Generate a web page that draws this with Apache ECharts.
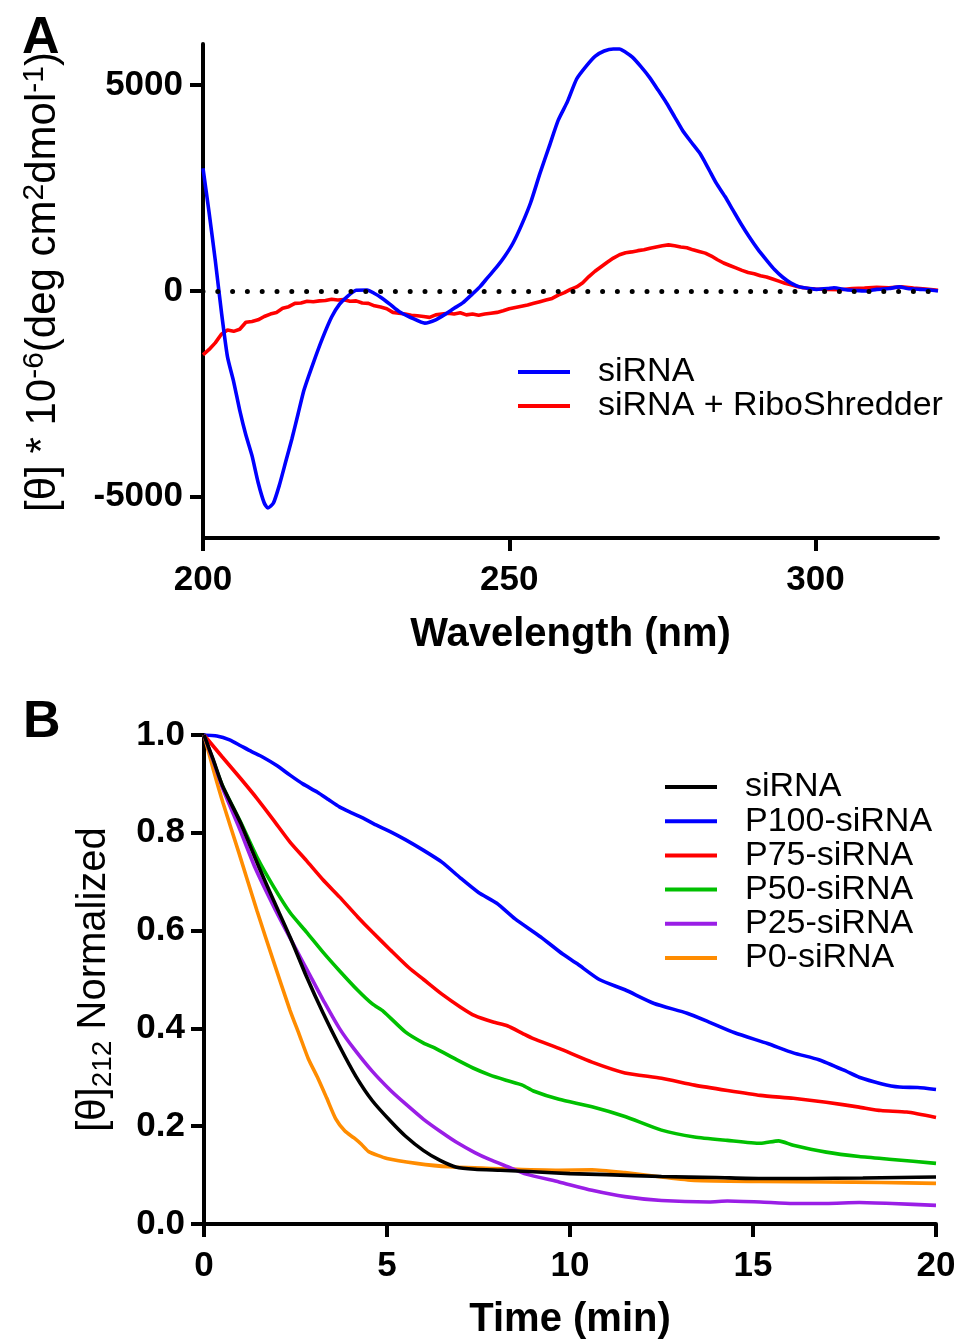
<!DOCTYPE html>
<html><head><meta charset="utf-8">
<script src="https://cdn.jsdelivr.net/npm/echarts@6/dist/echarts.min.js"></script>
<style>html,body{margin:0;padding:0;background:#fff}#c{width:955px;height:1340px}</style>
</head><body><div id="c"></div>
<script>
const FONT = '"Liberation Sans", Arial, Helvetica, sans-serif';

// ---------- Panel A : CD spectra ----------
const aXTicks = [200, 250, 300];
const aYTicks = [-5000, 0, 5000];
// [wavelength nm, [θ]]
const aSiRNA = [[200,2980],[201,1900],[202,750],[203,-500],[204,-1600],[205,-2200],[206,-2900],[207,-3500],[208,-4000],[209,-4650],[210,-5150],[210.6,-5270],[211.5,-5150],[212.5,-4700],[213.5,-4150],[214.5,-3600],[215.5,-3000],[216.5,-2400],[218,-1750],[219.5,-1150],[221,-630],[222.3,-320],[223.5,-140],[225,20],[226.8,25],[228,-60],[229,-150],[230.5,-320],[232,-500],[234,-650],[236.2,-780],[238,-700],[239.8,-540],[241,-420],[242.4,-290],[244,-70],[245.2,100],[246.5,330],[248,590],[249.3,850],[250.6,1160],[252,1600],[253.5,2150],[255,2850],[256.5,3500],[258,4150],[259.5,4600],[261,5150],[262.5,5450],[264,5700],[265.5,5830],[267,5880],[268,5880],[269,5800],[270.1,5680],[271.5,5450],[272.9,5190],[274.3,4880],[275.7,4560],[277,4230],[278.3,3900],[279.7,3620],[281.1,3350],[282.5,2980],[283.8,2620],[285.2,2300],[286.5,1970],[287.8,1640],[289.2,1310],[290.6,1010],[292,750],[293.3,520],[294.6,340],[296,190],[297.4,100],[299,60],[300.2,40],[302,60],[303,80],[305,30],[307,10],[308.3,0],[310,40],[312,60],[313.7,100],[315,60],[317,40],[318.5,30],[320,0]];
const aRibo = [[200,-1550],[201,-1420],[202,-1260],[203,-1050],[204,-950],[205,-980],[206,-930],[207,-760],[208,-740],[209,-700],[210,-620],[211,-560],[212,-520],[213,-420],[214,-380],[215,-300],[216,-290],[217,-250],[218,-260],[219,-240],[220,-230],[221,-200],[222,-220],[223,-210],[224,-250],[225,-240],[226,-290],[227,-300],[228,-360],[229,-390],[230,-430],[231,-520],[232,-540],[233,-560],[234,-590],[235,-600],[236,-620],[237,-640],[238,-580],[239,-560],[240,-540],[241,-560],[242,-530],[243,-580],[244,-560],[245,-590],[246,-560],[247,-540],[248,-520],[249,-480],[250,-430],[251,-400],[252,-370],[253,-340],[254,-300],[255,-260],[256,-220],[257,-180],[258,-100],[259,-40],[260,40],[261,100],[262,200],[263,350],[264,480],[265,590],[266,700],[267,800],[268,880],[269,930],[270,950],[271,980],[272,1000],[273,1040],[274,1070],[275,1100],[276,1120],[277,1100],[278,1070],[279,1050],[280,1000],[281,960],[282,920],[283,850],[284,760],[285,680],[286,620],[287,560],[288,500],[289,450],[290,420],[291,370],[292,340],[293,290],[294,240],[295,190],[296,150],[297,110],[298,80],[299,60],[300,50],[302,40],[304,30],[306,60],[308,70],[310,90],[312,80],[314,100],[316,70],[318,50],[320,20]];

// ---------- Panel B : kinetics ----------
const bXTicks = [0, 5, 10, 15, 20];
const bYTicks = [0, 0.2, 0.4, 0.6, 0.8, 1.0];
// [time min, normalized [θ]212]
const bSiRNA = [[0,1.0],[0.25,0.95],[0.5,0.897],[1.0,0.820],[1.5,0.730],[1.9,0.662],[2.35,0.587],[2.8,0.506],[3.25,0.432],[3.7,0.364],[4.15,0.302],[4.6,0.252],[5.1,0.210],[5.5,0.180],[6.0,0.150],[6.45,0.130],[6.9,0.116],[7.4,0.112],[8.1,0.110],[9.0,0.107],[10.0,0.103],[11.0,0.101],[12.5,0.097],[14.0,0.095],[15.2,0.093],[16.5,0.093],[18.0,0.094],[19.0,0.095],[20,0.096]];
const bP100 = [[0,1.0],[0.35,0.998],[0.7,0.99],[1.0,0.978],[1.3,0.966],[1.6,0.955],[2.0,0.937],[2.35,0.918],[2.7,0.900],[3.1,0.883],[3.4,0.868],[3.7,0.853],[4.0,0.842],[4.35,0.830],[4.7,0.816],[5.1,0.802],[5.5,0.786],[6.0,0.764],[6.5,0.740],[7.0,0.708],[7.5,0.678],[8.0,0.656],[8.5,0.624],[9.2,0.587],[9.8,0.552],[10.2,0.532],[10.8,0.500],[11.5,0.479],[12.3,0.451],[13.2,0.431],[13.8,0.413],[14.5,0.391],[15.4,0.369],[16.1,0.350],[16.8,0.336],[17.5,0.314],[17.9,0.300],[18.5,0.287],[19.0,0.280],[19.5,0.279],[20,0.275]];
const bP75 = [[0,1.0],[0.5,0.955],[1.0,0.911],[1.45,0.870],[1.9,0.826],[2.35,0.781],[2.8,0.743],[3.25,0.704],[3.7,0.669],[4.2,0.628],[4.6,0.597],[5.1,0.560],[5.6,0.524],[6.0,0.500],[6.5,0.470],[7.0,0.444],[7.4,0.426],[7.9,0.413],[8.3,0.405],[8.7,0.390],[9.0,0.379],[9.7,0.359],[10.6,0.331],[11.5,0.309],[12.5,0.298],[13.4,0.284],[14.3,0.273],[15.2,0.263],[16.1,0.257],[17.0,0.249],[17.9,0.239],[18.5,0.232],[19.2,0.229],[20,0.218]];
const bP50 = [[0,1.0],[0.25,0.947],[0.5,0.897],[1.0,0.822],[1.45,0.750],[1.9,0.690],[2.35,0.637],[2.8,0.597],[3.25,0.556],[3.7,0.518],[4.2,0.478],[4.6,0.450],[4.9,0.435],[5.5,0.393],[6.0,0.370],[6.3,0.360],[6.9,0.336],[7.35,0.319],[7.8,0.305],[8.25,0.294],[8.7,0.284],[9.0,0.272],[9.7,0.255],[10.6,0.240],[11.5,0.220],[12.5,0.192],[13.4,0.178],[14.3,0.171],[15.2,0.165],[15.7,0.170],[16.1,0.161],[17.0,0.147],[17.9,0.138],[18.8,0.132],[20,0.124]];
const bP25 = [[0,1.0],[0.25,0.948],[0.5,0.893],[1.0,0.803],[1.4,0.728],[1.9,0.650],[2.35,0.585],[2.9,0.508],[3.3,0.452],[3.7,0.400],[4.1,0.358],[4.6,0.312],[5.1,0.273],[5.5,0.246],[6.0,0.214],[6.5,0.187],[6.9,0.167],[7.4,0.146],[7.8,0.132],[8.3,0.117],[8.8,0.102],[9.7,0.086],[10.6,0.069],[11.5,0.056],[12.5,0.048],[13.8,0.045],[14.3,0.047],[15.2,0.045],[16.1,0.042],[17.0,0.042],[17.9,0.044],[18.8,0.042],[20,0.038]];
const bP0 = [[0,1.0],[0.26,0.928],[0.52,0.861],[0.95,0.760],[1.45,0.640],[1.9,0.537],[2.35,0.437],[2.6,0.388],[2.85,0.338],[3.1,0.300],[3.35,0.258],[3.6,0.215],[3.85,0.190],[4.1,0.176],[4.3,0.163],[4.5,0.148],[5.0,0.134],[5.8,0.124],[6.7,0.117],[8.1,0.113],[9.7,0.110],[10.6,0.111],[11.5,0.105],[12.5,0.096],[13.4,0.089],[15.2,0.087],[17.0,0.086],[18.5,0.085],[20,0.083]];

const aNames = ['siRNA', 'siRNA + RiboShredder'];
const bNames = ['siRNA', 'P100-siRNA', 'P75-siRNA', 'P50-siRNA', 'P25-siRNA', 'P0-siRNA'];

const C = {blue:'#0000ff', red:'#ff0000', black:'#000000', green:'#00c000', purple:'#9a1ee6', orange:'#ff8c00'};

function axisBase(){
  return {
    type:'value',
    axisLine:{show:true, onZero:false, lineStyle:{color:'#000', width:4}},
    axisTick:{show:true, inside:false, length:13, lineStyle:{color:'#000', width:4}},
    axisLabel:{color:'#000', fontSize:35, fontWeight:'bold', fontFamily:FONT, formatter: v => String(v)},
    splitLine:{show:false},
    nameLocation:'middle',
    nameMoveOverlap:false
  };
}

const chart = echarts.init(document.getElementById('c'), null, {renderer:'canvas', width:955, height:1340});

const xA = Object.assign(axisBase(), {gridIndex:0, min:200, max:320,
  name:'Wavelength (nm)', nameGap:77,
  nameTextStyle:{fontSize:40, fontWeight:'bold', color:'#000', fontFamily:FONT}});
xA.axisTick.customValues = aXTicks; xA.axisLabel.customValues = aXTicks; xA.axisLabel.margin = 25;

const yA = Object.assign(axisBase(), {gridIndex:0, min:-6000, max:6000,
  name:'{b|[θ] * 10}{sup|-6}{b|(deg cm}{sup|2}{b|dmol}{sup|-1}{b|)}', nameGap:137, nameRotate:90,
  nameTextStyle:{color:'#000', fontFamily:FONT, fontSize:42, padding:[0,0,0,18],
    rich:{b:{fontSize:42, lineHeight:46, fontFamily:FONT, color:'#000', verticalAlign:'middle'},
          sup:{fontSize:30, lineHeight:20, fontFamily:FONT, color:'#000', verticalAlign:'top'}}}});
yA.axisTick.customValues = aYTicks; yA.axisLabel.customValues = aYTicks; yA.axisLabel.margin = 20;

const xB = Object.assign(axisBase(), {gridIndex:1, min:0, max:20, interval:5,
  name:'Time (min)', nameGap:76,
  nameTextStyle:{fontSize:40, fontWeight:'bold', color:'#000', fontFamily:FONT}});
xB.axisTick.customValues = bXTicks; xB.axisLabel.customValues = bXTicks; xB.axisLabel.margin = 25;

const yB = Object.assign(axisBase(), {gridIndex:1, min:0, max:1, interval:0.2,
  name:'{b|[θ]}{sub|212}{b| Normalized}', nameGap:87, nameRotate:90,
  nameTextStyle:{color:'#000', fontFamily:FONT, fontSize:40,
    rich:{b:{fontSize:40, lineHeight:46, fontFamily:FONT, color:'#000', verticalAlign:'middle'},
          sub:{fontSize:28, lineHeight:20, fontFamily:FONT, color:'#000', verticalAlign:'bottom'}}}});
yB.axisTick.customValues = bYTicks; yB.axisLabel.customValues = bYTicks; yB.axisLabel.margin = 19;
yB.axisLabel.formatter = v => v.toFixed(1);

function line(name, data, color, xi, z, smooth){
  return {type:'line', name, data, xAxisIndex:xi, yAxisIndex:xi, showSymbol:false, symbol:'none',
    smooth:smooth, lineStyle:{color, width:3.6}, itemStyle:{color}, z:z||2,
    emphasis:{disabled:true}, silent:true, animation:false, clip:true};
}

const redA = line(aNames[1], aRibo, C.red, 0, 2, false);
redA.markLine = {silent:true, symbol:['none','none'], label:{show:false}, animation:false,
  lineStyle:{color:'#000', width:5, type:[0, 14.8], cap:'round', dashOffset:0},
  emphasis:{disabled:true}, data:[{yAxis:0}]};

const legendText = {fontSize:34, fontFamily:FONT, color:'#000', lineHeight:34, padding:[0,0,0,23]};

chart.setOption({
  backgroundColor:'#fff',
  animation:false,
  title:[
    {text:'A', left:22, top:13, padding:0, textStyle:{fontSize:52, fontWeight:'bold', color:'#000', fontFamily:FONT}},
    {text:'B', left:23, top:697, padding:0, textStyle:{fontSize:52, fontWeight:'bold', color:'#000', fontFamily:FONT}}
  ],
  grid:[
    {left:203, right:17, top:44, height:494, outerBoundsMode:'none', containLabel:false},
    {left:204, right:19, top:735, height:489, outerBoundsMode:'none', containLabel:false}
  ],
  legend:[
    {orient:'vertical', left:518, top:355, padding:0, itemGap:0, itemWidth:52, itemHeight:4, icon:'rect',
      selectedMode:false, textStyle:legendText,
      data:[{name:aNames[0], itemStyle:{color:C.blue}}, {name:aNames[1], itemStyle:{color:C.red}}]},
    {orient:'vertical', left:665, top:770, padding:0, itemGap:0.2, itemWidth:52, itemHeight:4, icon:'rect',
      selectedMode:false, textStyle:legendText,
      data:[{name:bNames[0], itemStyle:{color:C.black}}, {name:bNames[1], itemStyle:{color:C.blue}},
            {name:bNames[2], itemStyle:{color:C.red}}, {name:bNames[3], itemStyle:{color:C.green}},
            {name:bNames[4], itemStyle:{color:C.purple}}, {name:bNames[5], itemStyle:{color:C.orange}}]}
  ],
  xAxis:[xA, xB],
  yAxis:[yA, yB],
  series:[
    line(aNames[0], aSiRNA, C.blue, 0, 3, 0.2),
    redA,
    line(bNames[1], bP100, C.blue, 1, 2, 0.2),
    line(bNames[2], bP75, C.red, 1, 2, 0.2),
    line(bNames[3], bP50, C.green, 1, 2, 0.2),
    line(bNames[5], bP0, C.orange, 1, 2, 0.2),
    line(bNames[4], bP25, C.purple, 1, 3, 0.2),
    line(bNames[0], bSiRNA, C.black, 1, 4, 0.2)
  ]
});
</script></body></html>
